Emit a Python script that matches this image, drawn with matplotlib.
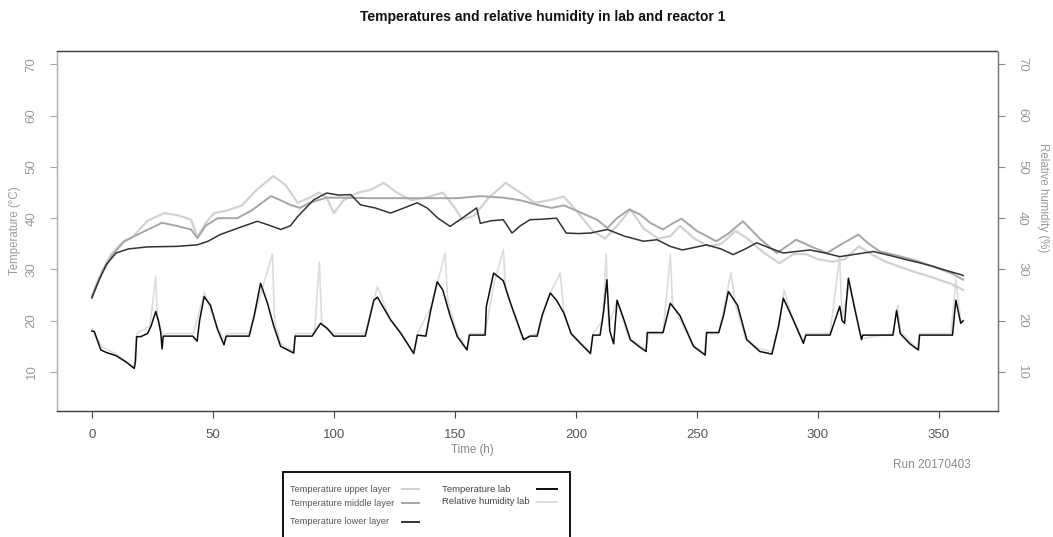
import matplotlib
matplotlib.use("Agg")
import matplotlib.pyplot as plt
from matplotlib.lines import Line2D
from matplotlib.patches import Rectangle

plt.rcParams['font.family'] = ['Liberation Sans', 'DejaVu Sans']

# ---------------- data ----------------
upper_t = [0, 4, 8, 12, 17, 23, 30, 36, 41, 43.6, 47, 50.5, 56, 62, 68, 75, 80, 85, 90, 94, 97,
           100, 104, 110, 115, 120.6, 126, 132, 138, 145, 150, 153, 158, 164, 171, 177, 183, 189,
           195, 201, 207, 212, 217, 222.5, 228, 234, 239, 243, 249, 255, 260, 266, 271, 277, 284,
           290, 295, 300, 306, 311, 317, 322, 328, 334, 340, 345, 350, 355, 358, 360]
upper_v = [25, 29.5, 33, 35, 36.4, 39.5, 41, 40.5, 39.7, 36.4, 39, 41, 41.5, 42.5, 45.5, 48.2, 46.5,
           43, 44, 45, 44, 41, 43.5, 45, 45.5, 46.9, 45, 43.5, 44, 45, 42, 39.7, 40.5, 44, 46.9, 45,
           43, 43.5, 44.2, 41, 37.5, 36, 38.5, 41.7, 38, 36, 36.5, 38.5, 36, 34.5, 35, 37.5, 36,
           33.5, 31.2, 33, 33, 32, 31.5, 32, 34.5, 33, 31.5, 30.5, 29.5, 28.8, 28, 27.2, 26.5, 26]

middle_t = [0, 4, 8, 13.3, 21.5, 29, 35, 41, 43.6, 47, 52, 60, 66, 74, 78, 82, 86, 90, 97, 105,
            115, 130, 145, 151, 160.5, 170, 177, 184, 190, 195, 200, 208.7, 213, 217, 222, 226.6,
            231, 236, 240, 243.6, 250, 258, 263, 269, 276, 283, 287, 291, 297, 303.6, 310, 316.7,
            321, 325.6, 332, 340, 348, 355, 360]
middle_v = [24.5, 29, 32.5, 35.5, 37.4, 39.1, 38.5, 37.8, 36.1, 38.5, 40, 40, 41.5, 44.3, 43.5,
            42.6, 42, 43, 44, 44, 43.9, 43.9, 43.9, 43.9, 44.3, 44, 43.5, 42.6, 42, 42.5, 41.5,
            39.7, 38.1, 40, 41.7, 40.7, 39, 37.8, 39, 39.9, 37.5, 35.5, 37, 39.4, 36, 33.2, 34.5,
            35.8, 34.5, 33.2, 35, 36.8, 35, 33.5, 32.8, 31.8, 30.5, 29.3, 28]

lower_t = [0, 3, 6, 10, 15, 23, 35, 43.6, 48, 53, 60, 68.4, 74, 78, 82, 85, 91.7, 97, 102, 107,
           111, 117, 123.4, 129, 134.4, 138.5, 143, 148, 153, 159, 160.5, 165, 170, 173.6, 177,
           181, 186, 192, 196, 201, 206, 213, 220, 228, 233.5, 239, 244, 249, 254, 260, 265, 270,
           274.7, 280, 285.7, 291, 296.7, 303, 309, 316, 322.9, 330, 336.6, 342, 347.6, 353, 359,
           360]
lower_v = [24.5, 28, 31, 33.2, 34, 34.4, 34.5, 34.8, 35.5, 36.8, 38, 39.4, 38.5, 37.8, 38.5, 40.3,
           43.6, 44.9, 44.5, 44.6, 42.6, 42, 41, 42, 43, 42, 40, 38.4, 40, 42, 39, 39.5, 39.7,
           37.1, 38.5, 39.7, 39.8, 40, 37.1, 37, 37.1, 37.8, 36.5, 35.5, 35.8, 34.5, 33.8, 34.3,
           34.8, 34, 32.9, 34, 35.2, 34.2, 33.2, 33.5, 33.8, 33.2, 32.5, 33, 33.5, 32.7, 31.9,
           31.3, 30.6, 29.8, 29, 28.8]

lab_t = [0, 1, 3.7, 6, 10, 14, 17.5, 18, 18.5, 20.2, 23, 24.5, 26.4, 27.5, 28.5, 29, 29.5, 35,
         41.7, 43.5, 44.5, 46.4, 49, 52, 54.6, 55.5, 65, 67, 69.7, 72.5, 75.2, 78, 83.4, 84, 91,
         94.5, 97.2, 100, 113, 116.5, 118, 123.4, 127.6, 133, 134.5, 138, 140, 142.7, 145, 148,
         151, 155, 156, 162.5, 163, 166, 170, 173, 178.4, 181, 184, 186, 189.4, 192, 195, 198,
         202, 206, 207, 210, 211.5, 212.8, 214, 215.6, 217, 220, 222.5, 226, 229, 229.5, 236,
         239, 243, 248.6, 253.4, 254, 259, 261, 263, 266.8, 270.6, 276, 281, 283.7, 285.7,
         289.4, 294, 295, 305, 309, 310, 311, 312.6, 315, 318, 318.5, 331, 332.5, 334, 338,
         341.5, 342, 355.6, 357, 359, 360]
lab_v = [18, 17.9, 14.3, 13.8, 13.2, 12, 10.7, 12, 16.9, 16.9, 17.5, 19, 21.8, 20, 17.6, 14.5, 17,
         17, 17, 16, 20, 24.7, 23, 18.2, 15.3, 17, 17, 20.8, 27.3, 23.5, 18.9, 15, 13.7, 17, 17,
         19.5, 18.5, 17, 17, 24, 24.6, 20.2, 17.6, 13.6, 17.2, 17, 22, 27.6, 26, 21, 16.9, 14.3,
         17.2, 17.2, 22.8, 29.3, 27.8, 23.4, 16.3, 17, 17, 21, 25.4, 24, 21.5, 17.5, 15.5, 13.6,
         17.2, 17.2, 22, 28, 18, 15.5, 24, 20, 16.3, 15, 14, 17.7, 17.7, 23.4, 21, 15, 13.3,
         17.7, 17.7, 21, 25.7, 23, 16.3, 14, 13.5, 18.9, 24.4, 20.6, 15.6, 17.2, 17.2, 22.8,
         20, 19.5, 28.3, 22.8, 16.3, 17.2, 17.2, 22, 17.5, 15.5, 14.3, 17.2, 17.2, 24, 19.5, 20]

hum_t = [0, 4, 10, 17.5, 18.5, 24, 26.4, 27, 29, 42, 46.5, 52, 55, 56, 65, 69, 74.6, 75.5, 78,
         83.4, 84, 92, 94, 95, 100, 113, 118, 123, 133, 134.5, 140, 146, 147, 151, 155, 156,
         162.5, 166, 170, 171, 178, 184, 189, 193.5, 195, 198, 206, 207, 211, 212.5, 213.5, 217,
         222, 229, 230, 236, 239, 240, 248, 253, 254, 259, 264, 266, 270, 276, 281, 284, 286,
         289, 294, 295, 305, 309, 310, 313, 315, 318, 331, 333, 334, 341, 342, 355, 357, 359,
         360]
hum_v = [18.5, 15, 13.5, 11, 17.5, 19, 28.6, 21, 17.5, 17.5, 25.5, 18.5, 16, 17.5, 17.5, 24, 33,
         20, 15.5, 14, 17.5, 17.5, 31.5, 19.5, 17.5, 17.5, 26.7, 20.5, 14, 17.5, 22.5, 33.2, 24,
         17.5, 14.5, 17.5, 17.5, 27, 33.8, 26, 16.5, 17.5, 25, 29.3, 22, 17.5, 14, 17.5, 20, 33,
         19, 24, 16.5, 14.5, 17.5, 17.5, 32.9, 23, 15.5, 13.5, 17.5, 17.5, 29.3, 23, 16.5, 14.5,
         14, 19, 26, 21, 16, 17.5, 17.5, 32.5, 20.5, 27, 23, 16.5, 17.5, 23, 18, 14.5, 17.5,
         17.5, 28, 20, 20]

x_ticks = [0, 50, 100, 150, 200, 250, 300, 350]
y_ticks = [10, 20, 30, 40, 50, 60, 70]

legend_col1 = ["Temperature upper layer", "Temperature middle layer", "Temperature lower layer"]
legend_col2 = ["Temperature lab", "Relative humidity lab"]

# ---------------- figure ----------------
W, H = 1053, 537
fig = plt.figure(figsize=(W / 100, H / 100), dpi=100)


def fx(x):
    return x / W


def fy(y):
    return 1 - y / H


ax = fig.add_axes([fx(57), fy(411), fx(998) - fx(57), fy(51) - fy(411)])
ax2 = ax.twinx()
ax.set_zorder(ax2.get_zorder() + 1)
ax.patch.set_visible(False)

c_upper, c_middle, c_lower, c_lab, c_hum = '#d2d2d2', '#a6a6a6', '#333333', '#0d0d0d', '#dcdcdc'

ax2.plot(hum_t, hum_v, color=c_hum, lw=1.2)
ax.plot(upper_t, upper_v, color=c_upper, lw=1.6)
ax.plot(middle_t, middle_v, color=c_middle, lw=1.4)
ax.plot(lower_t, lower_v, color=c_lower, lw=1.1)
ax.plot(lab_t, lab_v, color=c_lab, lw=1.1)

for a in (ax, ax2):
    a.set_xlim(-14.4, 374.4)
    a.set_ylim(2.4, 72.6)

ax.set_xticks(x_ticks)
ax.set_xticklabels([str(v) for v in x_ticks], fontsize=9.5, color='#555555')
ax.set_yticks(y_ticks)
ax.set_yticklabels([str(v) for v in y_ticks], fontsize=9.5, color='#9a9a9a',
                   rotation=90, va='center')
ax2.set_yticks(y_ticks)
ax2.set_yticklabels([str(v) for v in y_ticks], fontsize=9.5, color='#9a9a9a',
                    rotation=-90, va='center')
ax.tick_params(axis='x', direction='out', length=5, width=0.8, color='#444444', pad=8)
ax.tick_params(axis='y', direction='out', length=5, width=0.8, color='#aaaaaa', pad=9)
ax2.tick_params(axis='y', direction='out', length=5, width=0.8, color='#888888', pad=8)

for a in (ax, ax2):
    for side, sp in a.spines.items():
        sp.set_linewidth(0.9)
        sp.set_color('#444444')
    a.spines['left'].set_color('#b0b0b0')
    a.spines['right'].set_color('#777777')
    a.spines['right'].set_linestyle((0, (2, 1)))
    a.spines['top'].set_linestyle((0, (2, 1)))

# texts
fig.text(fx(543), fy(17), "Temperatures and relative humidity in lab and reactor 1",
         ha='center', va='center', fontsize=10, fontweight='bold', color='#111111')
fig.text(fx(472), fy(450), "Time (h)", ha='center', va='center', fontsize=8.3, color='#888888')
fig.text(fx(15), fy(231), "Temperature (°C)", ha='center', va='center', rotation=90,
         fontsize=8.3, color='#9a9a9a')
fig.text(fx(1043), fy(198), "Relative humidity (%)", ha='center', va='center', rotation=-90,
         fontsize=8.3, color='#9a9a9a')
fig.text(fx(932), fy(465), "Run 20170403", ha='center', va='center', fontsize=8.5,
         color='#8a8a8a')

# legend (manual, R-style, running off the bottom edge)
fig.add_artist(Rectangle((fx(283), fy(560)), fx(570) - fx(283), fy(472) - fy(560),
                         transform=fig.transFigure, fill=False, ec='#111111', lw=1.4))
rows1 = [489, 503, 522]
cols1 = [c_upper, c_middle, c_lower]
for lab, yy, cc in zip(legend_col1, rows1, cols1):
    fig.text(fx(290), fy(yy), lab, ha='left', va='center', fontsize=6.6, color='#555555')
    fig.add_artist(Line2D([fx(402), fx(419)], [fy(yy), fy(yy)], transform=fig.transFigure,
                          color=cc, lw=1.4))
rows2 = [489, 502]
cols2 = [c_lab, c_hum]
for lab, yy, cc in zip(legend_col2, rows2, cols2):
    fig.text(fx(442), fy(yy), lab, ha='left', va='center', fontsize=6.8, color='#444444')
    fig.add_artist(Line2D([fx(537), fx(557)], [fy(yy), fy(yy)], transform=fig.transFigure,
                          color=cc, lw=1.4))

fig.savefig("out.png", dpi=100)
